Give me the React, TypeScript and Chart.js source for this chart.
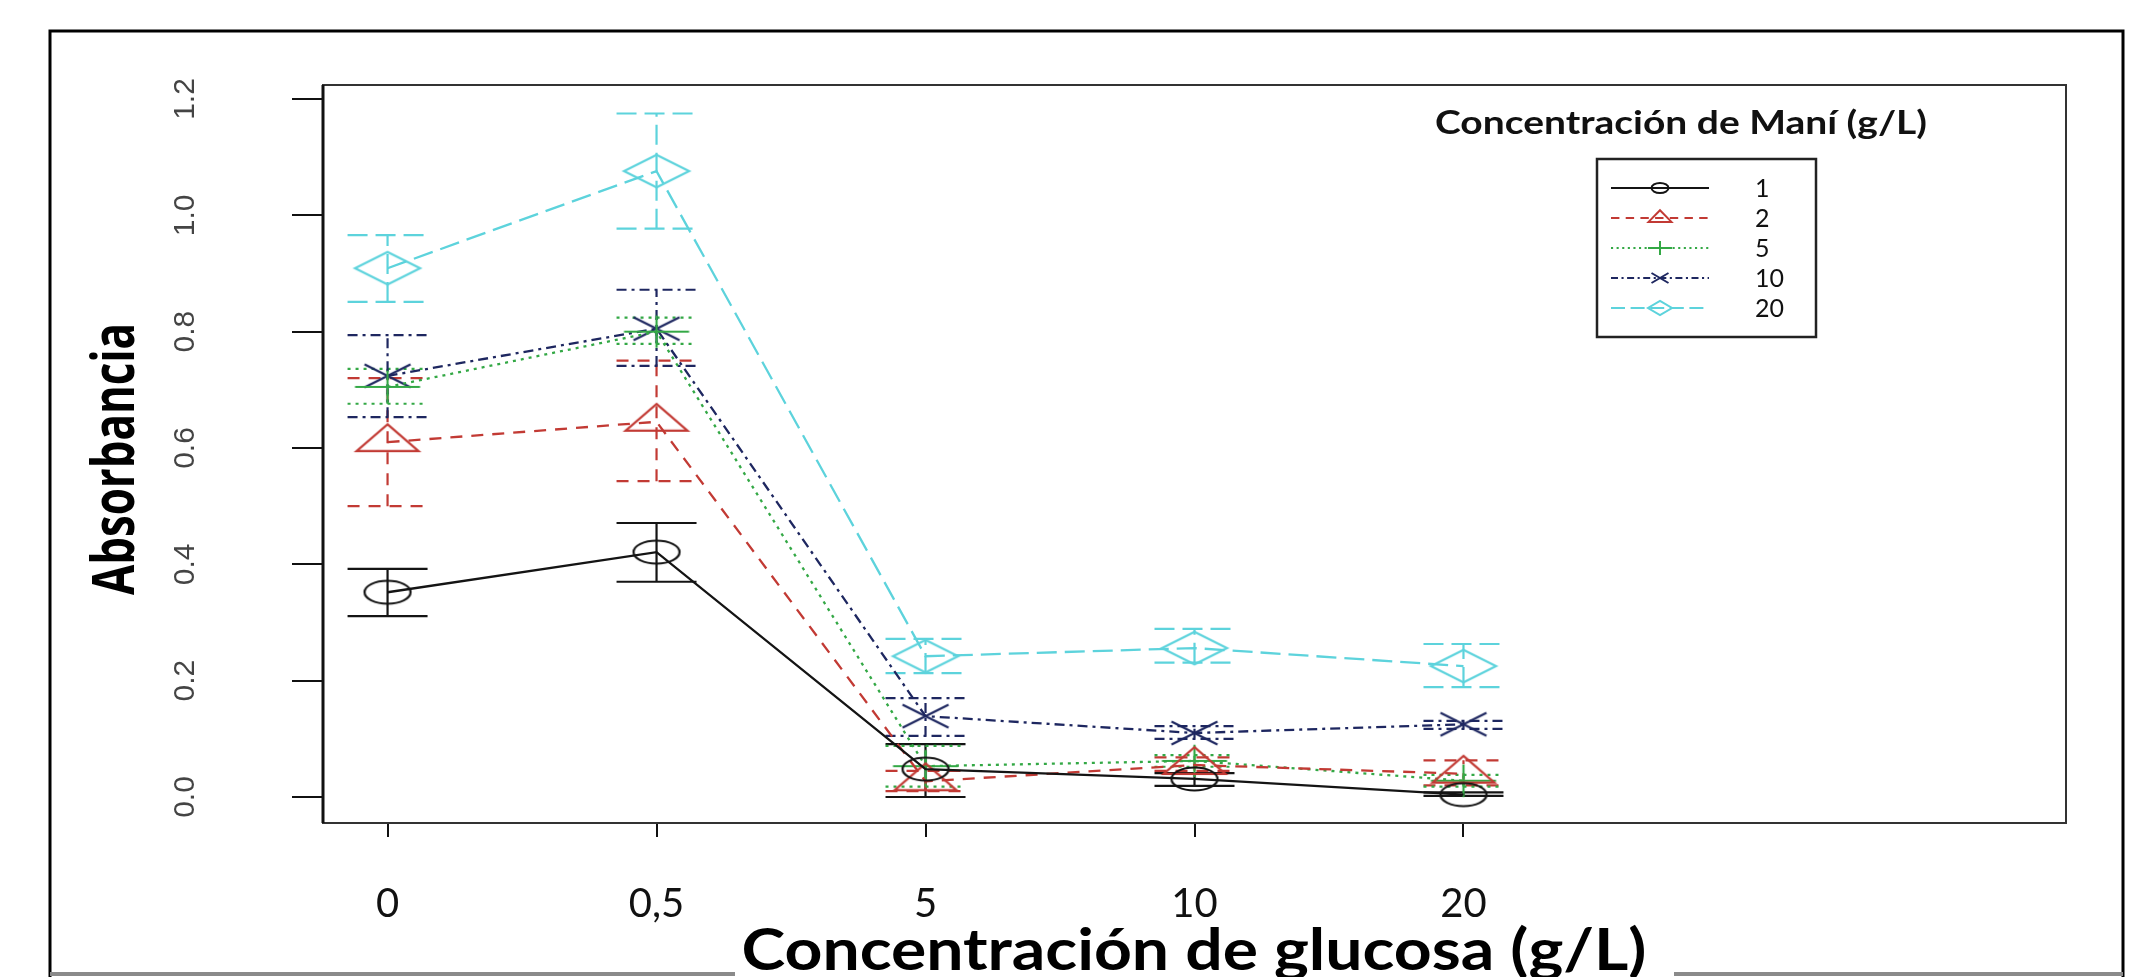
import React, { useEffect, useRef } from "react";
import { Chart, registerables } from "chart.js";

Chart.register(...registerables);

// ---------- data ----------
const categories = ["0", "0,5", "5", "10", "20"];
const seriesNames = ["1", "2", "5", "10", "20"];

const mani1 = [0.352, 0.421, 0.048, 0.031, 0.004];
const mani1Lo = [0.311, 0.37, 0.0, 0.019, 0.002];
const mani1Hi = [0.392, 0.471, 0.091, 0.041, 0.008];

const mani2 = [0.61, 0.645, 0.027, 0.055, 0.04];
const mani2Lo = [0.5, 0.543, 0.01, 0.045, 0.02];
const mani2Hi = [0.72, 0.75, 0.045, 0.068, 0.063];

const mani5 = [0.705, 0.8, 0.053, 0.062, 0.028];
const mani5Lo = [0.676, 0.779, 0.018, 0.052, 0.018];
const mani5Hi = [0.736, 0.824, 0.088, 0.072, 0.038];

const mani10 = [0.724, 0.805, 0.139, 0.11, 0.125];
const mani10Lo = [0.653, 0.741, 0.105, 0.1, 0.117];
const mani10Hi = [0.794, 0.872, 0.17, 0.122, 0.131];

const mani20 = [0.909, 1.076, 0.242, 0.256, 0.225];
const mani20Lo = [0.851, 0.977, 0.213, 0.231, 0.189];
const mani20Hi = [0.966, 1.175, 0.272, 0.289, 0.263];

const yTickValues = [0, 0.2, 0.4, 0.6, 0.8, 1.0, 1.2];
const yTickLabels = ["0.0", "0.2", "0.4", "0.6", "0.8", "1.0", "1.2"];

const xTitle = "Concentración de glucosa (g/L)";
const yTitle = "Absorbancia";
const legendTitle = "Concentración de Maní (g/L)";

// ---------- styles ----------
const W = 2155;
const H = 977;
const seriesStyles = [
  { color: "#141414", dash: [] as number[], marker: "circle" },
  { color: "#c23a34", dash: [12, 9], marker: "triangle" },
  { color: "#33a845", dash: [3, 5], marker: "plus" },
  { color: "#1e2760", dash: [10, 5, 3, 5], marker: "x" },
  { color: "#5dd3dc", dash: [20, 8], marker: "diamond" },
];
const seriesValues = [mani1, mani2, mani5, mani10, mani20];
const seriesLo = [mani1Lo, mani2Lo, mani5Lo, mani10Lo, mani20Lo];
const seriesHi = [mani1Hi, mani2Hi, mani5Hi, mani10Hi, mani20Hi];

function makeMarker(kind: string, color: string, rx: number, ry: number, lw: number) {
  const halfW = Math.ceil(rx * 1.42 + lw + 2);
  const halfH = Math.ceil(ry * 1.6 + lw + 2);
  const c = document.createElement("canvas");
  c.width = halfW * 2;
  c.height = halfH * 2;
  const ctx = c.getContext("2d")!;
  const cx = halfW;
  const cy = halfH;
  ctx.strokeStyle = color;
  ctx.lineWidth = lw;
  ctx.beginPath();
  if (kind === "circle") {
    ctx.ellipse(cx, cy, rx, ry, 0, 0, Math.PI * 2);
  } else if (kind === "triangle") {
    ctx.moveTo(cx, cy - 1.555 * ry);
    ctx.lineTo(cx + 1.347 * rx, cy + 0.778 * ry);
    ctx.lineTo(cx - 1.347 * rx, cy + 0.778 * ry);
    ctx.closePath();
  } else if (kind === "plus") {
    ctx.moveTo(cx - 1.414 * rx, cy);
    ctx.lineTo(cx + 1.414 * rx, cy);
    ctx.moveTo(cx, cy - 1.414 * ry);
    ctx.lineTo(cx, cy + 1.414 * ry);
  } else if (kind === "x") {
    ctx.moveTo(cx - rx, cy - ry);
    ctx.lineTo(cx + rx, cy + ry);
    ctx.moveTo(cx - rx, cy + ry);
    ctx.lineTo(cx + rx, cy - ry);
  } else if (kind === "diamond") {
    ctx.moveTo(cx, cy - 1.414 * ry);
    ctx.lineTo(cx + 1.414 * rx, cy);
    ctx.lineTo(cx, cy + 1.414 * ry);
    ctx.lineTo(cx - 1.414 * rx, cy);
    ctx.closePath();
  }
  ctx.stroke();
  return c;
}

// draw text horizontally stretched to a target width, centred on cx
function fillFitted(ctx: CanvasRenderingContext2D, text: string, cx: number, by: number, targetW: number, sy = 1) {
  const w = ctx.measureText(text).width;
  ctx.save();
  ctx.translate(cx, by);
  ctx.scale(targetW / w, sy);
  ctx.textAlign = "center";
  ctx.fillText(text, 0, 0);
  ctx.restore();
}

let legendMarkers: HTMLCanvasElement[] = [];

const decorPlugin = {
  id: "decor",
  beforeDatasetsDraw(chart: any) {
    const ctx = chart.ctx as CanvasRenderingContext2D;
    const xs = chart.scales.x;
    const ys = chart.scales.y;
    seriesValues.forEach((_vals, si) => {
      const st = seriesStyles[si];
      ctx.save();
      ctx.strokeStyle = st.color;
      ctx.lineWidth = 2.2;
      ctx.setLineDash(st.dash);
      for (let i = 0; i < categories.length; i++) {
        const px = xs.getPixelForValue(i);
        const yl = ys.getPixelForValue(seriesLo[si][i]);
        const yh = ys.getPixelForValue(seriesHi[si][i]);
        ctx.beginPath();
        ctx.moveTo(px, yl);
        ctx.lineTo(px, yh);
        ctx.moveTo(px - 40, yl);
        ctx.lineTo(px + 40, yl);
        ctx.moveTo(px - 40, yh);
        ctx.lineTo(px + 40, yh);
        ctx.stroke();
      }
      ctx.restore();
    });
  },
  afterDraw(chart: any) {
    const ctx = chart.ctx as CanvasRenderingContext2D;
    const a = chart.chartArea;
    const ys = chart.scales.y;
    const xs = chart.scales.x;
    ctx.save();
    // plot box
    ctx.strokeStyle = "#333";
    ctx.lineWidth = 2;
    ctx.strokeRect(a.left, a.top, a.right - a.left, a.bottom - a.top);
    ctx.strokeStyle = "#111";
    ctx.lineWidth = 3;
    ctx.beginPath();
    ctx.moveTo(a.left, a.top);
    ctx.lineTo(a.left, a.bottom);
    ctx.stroke();

    // y tick labels (rotated)
    ctx.fillStyle = "#444";
    ctx.font = '30px "Liberation Sans", Arial, sans-serif';
    ctx.textAlign = "center";
    ctx.textBaseline = "middle";
    yTickValues.forEach((v, i) => {
      const py = ys.getPixelForValue(v);
      ctx.save();
      ctx.translate(186, py);
      ctx.rotate(-Math.PI / 2);
      ctx.fillText(yTickLabels[i], 0, 0);
      ctx.restore();
    });

    // x tick labels
    ctx.fillStyle = "#111";
    ctx.font = '40px Lato, "Open Sans", sans-serif';
    ctx.textAlign = "center";
    ctx.textBaseline = "middle";
    categories.forEach((c, i) => {
      ctx.fillText(c, xs.getPixelForValue(i), 904);
    });

    // y title (rotated, stretched)
    ctx.fillStyle = "#000";
    ctx.font = 'bold 44px "Open Sans", sans-serif';
    ctx.textBaseline = "middle";
    ctx.save();
    ctx.translate(117, 459);
    ctx.rotate(-Math.PI / 2);
    fillFitted(ctx, yTitle, 0, 0, 272, 1.35);
    ctx.restore();

    // x title
    ctx.fillStyle = "#000";
    ctx.font = 'bold 57px Lato, "Open Sans", sans-serif';
    ctx.textBaseline = "alphabetic";
    fillFitted(ctx, xTitle, 1194, 970, 905);

    // outer frame
    ctx.strokeStyle = "#000";
    ctx.lineWidth = 3;
    ctx.beginPath();
    ctx.moveTo(50, H + 5);
    ctx.lineTo(50, 31);
    ctx.lineTo(2123, 31);
    ctx.lineTo(2123, H + 5);
    ctx.stroke();
    ctx.strokeStyle = "#8a8a8a";
    ctx.lineWidth = 4;
    ctx.beginPath();
    ctx.moveTo(50, 974);
    ctx.lineTo(735, 974);
    ctx.moveTo(1674, 974);
    ctx.lineTo(2123, 974);
    ctx.stroke();

    // legend
    ctx.fillStyle = "#111";
    ctx.font = 'bold 33px Lato, "Open Sans", sans-serif';
    ctx.textBaseline = "alphabetic";
    fillFitted(ctx, legendTitle, 1681, 134, 492);
    ctx.strokeStyle = "#222";
    ctx.lineWidth = 2.5;
    ctx.strokeRect(1597, 159, 219, 178);
    ctx.font = '25px Lato, "Open Sans", sans-serif';
    ctx.textAlign = "left";
    ctx.textBaseline = "middle";
    seriesNames.forEach((name, i) => {
      const st = seriesStyles[i];
      const ry = 188 + i * 30;
      ctx.save();
      ctx.strokeStyle = st.color;
      ctx.lineWidth = 2;
      ctx.setLineDash(st.dash.map((d) => d * 0.7));
      ctx.beginPath();
      ctx.moveTo(1611, ry);
      ctx.lineTo(1709, ry);
      ctx.stroke();
      ctx.restore();
      const m = legendMarkers[i];
      ctx.drawImage(m, 1660 - m.width / 2, ry - m.height / 2);
      ctx.fillStyle = "#111";
      ctx.fillText(name, 1755, ry + 1);
    });
    ctx.restore();
  },
};

export default function App() {
  const ref = useRef<HTMLCanvasElement | null>(null);
  useEffect(() => {
    if (!ref.current) return;
    legendMarkers = seriesStyles.map((s) => makeMarker(s.marker, s.color, 8.5, 5, 2));
    const chartMarkers = seriesStyles.map((s) => makeMarker(s.marker, s.color, 23, 11.5, 2.2));
    const datasets = seriesValues.map((vals, si) => ({
      label: seriesNames[si],
      data: vals.map((v, i) => ({ x: i, y: v })),
      borderColor: seriesStyles[si].color,
      backgroundColor: "transparent",
      borderWidth: 2.3,
      borderDash: seriesStyles[si].dash,
      pointStyle: chartMarkers[si],
      pointRadius: 3,
      pointHoverRadius: 3,
      tension: 0,
      fill: false,
    }));
    const chart = new Chart(ref.current, {
      type: "line",
      data: { datasets },
      plugins: [decorPlugin],
      options: {
        responsive: false,
        animation: false,
        events: [],
        layout: { padding: { left: 0, top: 85, right: W - 2066, bottom: 0 } },
        plugins: { legend: { display: false }, tooltip: { enabled: false }, title: { display: false } },
        scales: {
          x: {
            type: "linear",
            min: -0.24,
            max: 6.24,
            afterBuildTicks: (s: any) => {
              s.ticks = categories.map((_c, i) => ({ value: i }));
            },
            afterFit: (s: any) => {
              s.height = H - 823;
            },
            ticks: { display: false },
            border: { display: false },
            grid: { display: true, drawOnChartArea: false, drawTicks: true, tickLength: 14, color: "#111", lineWidth: 2 },
          },
          y: {
            type: "linear",
            min: -0.0447,
            max: 1.224,
            afterBuildTicks: (s: any) => {
              s.ticks = yTickValues.map((v) => ({ value: v }));
            },
            afterFit: (s: any) => {
              s.width = 323;
            },
            ticks: { display: false },
            border: { display: false },
            grid: { display: true, drawOnChartArea: false, drawTicks: true, tickLength: 31, color: "#111", lineWidth: 2 },
          },
        },
      },
    });
    return () => chart.destroy();
  }, []);
  return (
    <div style={{ position: "absolute", left: 0, top: 0, width: W, height: H, background: "#fff" }}>
      <canvas ref={ref} width={W} height={H} style={{ display: "block", width: W, height: H }} />
    </div>
  );
}
